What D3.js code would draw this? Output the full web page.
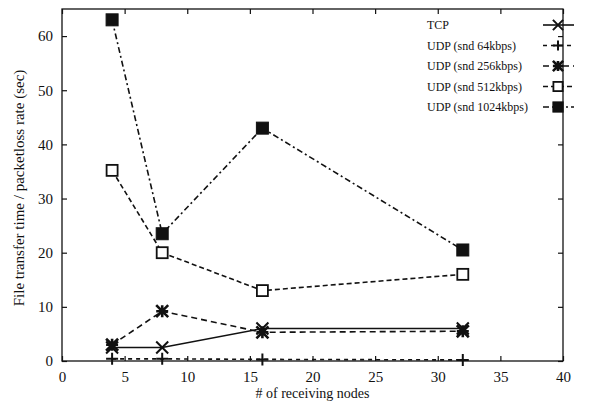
<!DOCTYPE html>
<html>
<head>
<meta charset="utf-8">
<script src="https://cdn.jsdelivr.net/npm/d3@7"></script>
<style>
  body { margin: 0; background: #fff; }
  text { font-family: "Liberation Serif", "DejaVu Serif", serif; fill: #111; }
</style>
</head>
<body>
<div id="chart"></div>
<script>
// receiving nodes and measured values
var nodes = [4, 8, 16, 32];
var tcp = [2.5, 2.5, 6, 6];
var udp64 = [0.4, 0.4, 0.3, 0.2];
var udp256 = [3, 9.2, 5.3, 5.5];
var udp512 = [35.2, 20, 13, 16];
var udp1024 = [63, 23.5, 43, 20.5];
var seriesNames = ["TCP", "UDP (snd 64kbps)", "UDP (snd 256kbps)", "UDP (snd 512kbps)", "UDP (snd 1024kbps)"];
var xTicks = [0, 5, 10, 15, 20, 25, 30, 35, 40];
var yTicks = [0, 10, 20, 30, 40, 50, 60];

var fullWidth = 608, fullHeight = 407;
var margin = {top: 9, right: 45, bottom: 46, left: 62};
var width = fullWidth - margin.left - margin.right;
var height = fullHeight - margin.top - margin.bottom;

var svg = d3.select('#chart').append('svg')
  .attr('width', fullWidth)
  .attr('height', fullHeight);
var g = svg.append('g')
  .attr('transform', 'translate(' + margin.left + ',' + margin.top + ')');

var x = d3.scaleLinear().domain([0, 40]).range([0, width]);
var y = d3.scaleLinear().domain([0, 65]).range([height, 0]);

// frame
g.append('rect').attr('width', width).attr('height', height)
  .attr('fill', 'none').attr('stroke', '#111').attr('stroke-width', 1.3);

// ticks inside, mirrored
var xAx = g.append('g').attr('transform', 'translate(0,' + height + ')')
  .call(d3.axisBottom(x).tickValues(xTicks).tickSizeInner(-5).tickSizeOuter(0).tickPadding(10));
var xTop = g.append('g')
  .call(d3.axisTop(x).tickValues(xTicks).tickSizeInner(-5).tickSizeOuter(0).tickFormat(''));
var yAx = g.append('g')
  .call(d3.axisLeft(y).tickValues(yTicks).tickSizeInner(-5).tickSizeOuter(0).tickPadding(9));
var yRight = g.append('g').attr('transform', 'translate(' + width + ',0)')
  .call(d3.axisRight(y).tickValues(yTicks).tickSizeInner(-5).tickSizeOuter(0).tickFormat(''));
[xAx, xTop, yAx, yRight].forEach(function(a) {
  a.select('.domain').remove();
  a.selectAll('line').attr('stroke', '#111').attr('stroke-width', 1.2);
  a.selectAll('text').style('font-family', '"Liberation Serif", serif').style('font-size', '15px').attr('fill', '#111');
});

// axis titles
svg.append('text').attr('x', margin.left + width / 2).attr('y', 398)
  .attr('text-anchor', 'middle').style('font-size', '14px').text('# of receiving nodes');
svg.append('text').attr('transform', 'translate(24,' + (margin.top + height / 2 + 3) + ') rotate(-90)')
  .attr('text-anchor', 'middle').style('font-size', '15px').text('File transfer time / packetloss rate (sec)');

var allSeries = [tcp, udp64, udp256, udp512, udp1024];
var dashes = [null, '4,4', '6,4', '5,3', '6,3,2,3'];
var line = d3.line().x(function(d, i) { return x(nodes[i]); }).y(function(d) { return y(d); });

function marker(sel, k, cx, cy, sc) {
  var s = 6 * sc;
  var m = sel.append('g').attr('transform', 'translate(' + cx + ',' + cy + ')')
    .attr('stroke', '#111').attr('stroke-width', 2);
  if (k === 0) {
    m.append('path').attr('d', 'M' + -s + ',' + -s + 'L' + s + ',' + s + 'M' + -s + ',' + s + 'L' + s + ',' + -s);
  } else if (k === 1) {
    m.append('path').attr('d', 'M' + -s + ',0L' + s + ',0M0,' + -s + 'L0,' + s);
  } else if (k === 2) {
    m.append('path').attr('d', 'M' + -s + ',' + -s + 'L' + s + ',' + s + 'M' + -s + ',' + s + 'L' + s + ',' + -s +
      'M' + -s + ',0L' + s + ',0M0,' + -s + 'L0,' + s).attr('stroke-width', 2.6);
  } else if (k === 3) {
    m.append('rect').attr('x', -s + 0.5).attr('y', -s + 0.5).attr('width', 2 * s - 1).attr('height', 2 * s - 1)
      .attr('fill', '#fff').attr('stroke-width', 1.8);
  } else {
    m.append('rect').attr('x', -s).attr('y', -s).attr('width', 2 * s).attr('height', 2 * s)
      .attr('fill', '#111').attr('stroke-width', 1);
  }
}

allSeries.forEach(function(vals, k) {
  g.append('path').datum(vals).attr('d', line)
    .attr('fill', 'none').attr('stroke', '#111').attr('stroke-width', 1.6)
    .attr('stroke-dasharray', dashes[k]);
});
allSeries.forEach(function(vals, k) {
  vals.forEach(function(v, i) { marker(g, k, x(nodes[i]), y(v), 1); });
});

// legend
var legend = svg.append('g');
seriesNames.forEach(function(name, k) {
  var ly = 25 + k * 20.5;
  legend.append('text').attr('x', 427).attr('y', ly + 4).style('font-size', '12px').text(name);
  legend.append('line').attr('x1', 543).attr('x2', 574).attr('y1', ly).attr('y2', ly)
    .attr('stroke', '#111').attr('stroke-width', 1.6).attr('stroke-dasharray', dashes[k]);
  marker(legend, k, 558, ly, 0.85);
});
</script>
</body>
</html>
